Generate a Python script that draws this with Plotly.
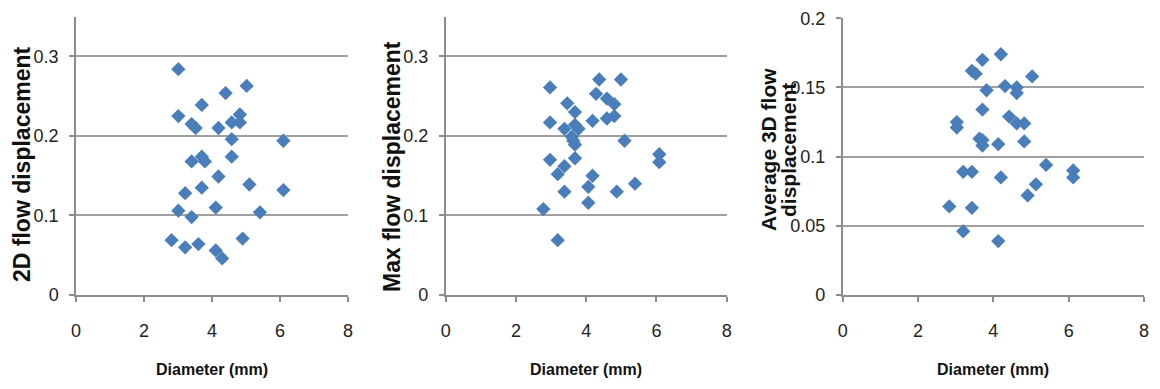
import plotly.graph_objects as go

# ---- data ----
d2_diam = [3.01, 5.02, 4.40, 3.70, 3.01, 3.40, 3.52, 4.19, 4.58, 4.82, 4.82, 4.58, 6.10,
           3.40, 3.70, 3.79, 4.58, 4.19, 3.21, 3.70, 5.10, 6.10, 3.01, 3.40, 4.11, 5.41,
           2.81, 3.21, 3.60, 4.11, 4.30, 4.90]
d2_disp = [0.284, 0.263, 0.254, 0.239, 0.225, 0.215, 0.210, 0.210, 0.217, 0.227, 0.217, 0.196, 0.194,
           0.168, 0.174, 0.168, 0.174, 0.149, 0.128, 0.135, 0.139, 0.132, 0.106, 0.098, 0.110, 0.104,
           0.069, 0.060, 0.064, 0.056, 0.046, 0.071]

max_diam = [2.97, 4.37, 4.99, 4.28, 3.46, 4.59, 4.80, 3.68, 2.97, 3.38, 3.68, 3.78, 4.18,
            4.59, 4.80, 3.59, 3.63, 3.68, 5.09, 2.97, 3.68, 3.38, 3.19, 4.18, 6.08, 6.08,
            3.38, 4.06, 5.39, 4.87, 4.06, 2.78, 3.19]
max_disp = [0.261, 0.271, 0.271, 0.253, 0.241, 0.247, 0.240, 0.230, 0.217, 0.209, 0.214, 0.209, 0.219,
            0.222, 0.225, 0.199, 0.194, 0.189, 0.194, 0.170, 0.172, 0.162, 0.152, 0.150, 0.177, 0.167,
            0.130, 0.136, 0.140, 0.130, 0.116, 0.108, 0.069]

avg_diam = [4.20, 3.71, 3.43, 3.53, 5.03, 3.82, 4.31, 4.62, 4.62, 3.71, 4.42, 3.03, 3.03,
            4.62, 4.82, 3.63, 3.71, 3.71, 4.13, 4.82, 3.20, 3.43, 4.20, 5.40, 6.12, 6.12,
            5.13, 4.91, 2.83, 3.43, 3.20, 4.13]
avg_disp = [0.174, 0.170, 0.162, 0.160, 0.158, 0.148, 0.151, 0.150, 0.146, 0.134, 0.129, 0.125, 0.121,
            0.124, 0.124, 0.113, 0.112, 0.108, 0.109, 0.111, 0.089, 0.089, 0.085, 0.094, 0.090, 0.085,
            0.080, 0.072, 0.064, 0.063, 0.046, 0.039]

x_title = "Diameter (mm)"
y_title_lines = [["2D flow displacement"], ["Max flow displacement"],
                 ["Average 3D flow", "displacement"]]

W, H = 1160, 389
MARKER = "#4A7EBB"
GRID = "#A0A0A0"
AXIS = "#8C8C8C"
TICKFONT = dict(family="Liberation Sans, Arial, sans-serif", size=18, color="#222222")

fig = go.Figure()
series = [(d2_diam, d2_disp), (max_diam, max_disp), (avg_diam, avg_disp)]
for i, (xs, ys) in enumerate(series):
    sfx = "" if i == 0 else str(i + 1)
    fig.add_trace(go.Scatter(
        x=xs, y=ys, mode="markers", xaxis="x" + sfx, yaxis="y" + sfx,
        marker=dict(symbol="diamond", size=11, color=MARKER, line=dict(width=0)),
        showlegend=False, hoverinfo="x+y",
    ))

# pixel geometry of the three plot areas
x_px = [(76, 348), (445.7, 726.7), (842.7, 1144)]
y_bot = 295
y_top = [16.7, 16.7, 18.3]
y_ranges = [[0, 0.35], [0, 0.35], [0, 0.2]]
y_dticks = [0.1, 0.1, 0.05]

layout = dict(
    width=W, height=H, margin=dict(l=0, r=0, t=0, b=0, autoexpand=False),
    paper_bgcolor="white", plot_bgcolor="white",
)
for i in range(3):
    sfx = "" if i == 0 else str(i + 1)
    layout["xaxis" + sfx] = dict(
        domain=[x_px[i][0] / W, x_px[i][1] / W], anchor="y" + sfx,
        range=[0, 8], dtick=2, tick0=0, showgrid=False, zeroline=False,
        showline=True, linecolor=AXIS, linewidth=1.5,
        ticks="outside", ticklen=5, tickcolor=AXIS, tickwidth=1.5,
        ticklabelstandoff=14, tickfont=TICKFONT, automargin=False,
    )
    layout["yaxis" + sfx] = dict(
        domain=[(H - y_bot) / H, (H - y_top[i]) / H], anchor="x" + sfx,
        range=y_ranges[i], dtick=y_dticks[i], tick0=0,
        showgrid=True, gridcolor=GRID, gridwidth=1.5, zeroline=False,
        showline=True, linecolor=AXIS, linewidth=1.5,
        ticks="outside", ticklen=5, tickcolor=AXIS, tickwidth=1.5,
        ticklabelstandoff=7, tickfont=TICKFONT, automargin=False,
    )
fig.update_layout(**layout)

# y-axis titles as rotated annotations (pixel centres)
title_font_y = dict(family="Liberation Sans, Arial, sans-serif", size=23, color="#111111")
title_font_y3 = dict(family="Liberation Sans, Arial, sans-serif", size=21, color="#111111")
y_title_pos = [[(22, 164)], [(392, 167)], [(768, 150), (788, 150)]]
for k, (poss, lines) in enumerate(zip(y_title_pos, y_title_lines)):
    for (px, py), txt in zip(poss, lines):
        fig.add_annotation(text="<b>" + txt + "</b>", x=px / W, y=(H - py) / H,
                           xref="paper", yref="paper", xanchor="center", yanchor="middle",
                           textangle=-90, showarrow=False,
                           font=title_font_y3 if k == 2 else title_font_y)

title_font_x = dict(family="Liberation Sans, Arial, sans-serif", size=16, color="#111111")
for (a, b) in x_px:
    fig.add_annotation(text="<b>" + x_title + "</b>", x=(a + b) / 2 / W, y=(H - 369) / H,
                       xref="paper", yref="paper", xanchor="center", yanchor="middle",
                       showarrow=False, font=title_font_x)

fig.write_html("out.html", config={"displayModeBar": False},
               post_script="document.body.style.margin='0px';document.body.style.overflow='hidden';")
